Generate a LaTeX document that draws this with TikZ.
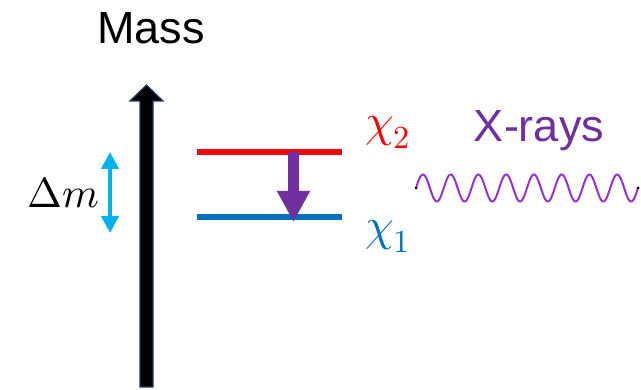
\documentclass[tikz,border=0pt]{standalone}
\usepackage{fontspec}
\usepackage{unicode-math}
\setmathfont{Latin Modern Math}
\newfontfamily\arialfont{Liberation Sans}
\usepackage{xcolor}
\usetikzlibrary{arrows.meta,positioning}

\definecolor{xpurple}{RGB}{112,48,160}
\definecolor{wavepurple}{RGB}{150,50,210}
\definecolor{xblue}{RGB}{0,112,192}
\definecolor{xcyan}{RGB}{0,176,240}
\definecolor{xnavy}{RGB}{31,56,100}

\begin{document}
\begin{tikzpicture}[
  x=1pt,y=-1pt,
  title/.style={font=\arialfont\fontsize{45}{54}\selectfont,inner sep=0pt,anchor=base},
  chilabel/.style={font=\fontsize{46}{52}\selectfont,inner sep=0pt,anchor=base west},
  level/.style={line width=6pt},
  decay/.style={-{Triangle[width=31pt,length=31pt]},line width=11pt,xpurple},
  gap/.style={{Triangle[width=17pt,length=17pt]}-{Triangle[width=17pt,length=17pt]},line width=4pt,xcyan}
]
\useasboundingbox (0,0) rectangle (641,390);

% mass axis
\filldraw[fill=black,draw=xnavy,line width=1.2pt]
  (140,387) -- (140,101) -- (130,101) -- (146.5,85) -- (163,101) -- (153,101) -- (153,387) -- cycle;
\node[title] (mass) at (151,44) {Mass};

% mass splitting
\coordinate (gaptop) at (110,152);
\coordinate (gapbot) at (110,233);
\draw[gap] (gaptop) -- (gapbot);
\node[font=\fontsize{42}{48}\selectfont,inner sep=0pt,anchor=base] (dm) at (63,208) {$\Delta m$};

% levels
\coordinate (l2a) at (197,152);
\coordinate (l2b) at (342,152);
\coordinate (l1a) at (197,217);
\coordinate (l1b) at (342,217);
\draw[level,red] (l2a) -- (l2b);
\draw[level,xblue] (l1a) -- (l1b);
\node[chilabel,text=red] (chi2) at (365,137) {$\chi_2$};
\node[chilabel,text=xblue] (chi1) at (365,241) {$\chi_1$};

% transition
\coordinate (dtop) at (293.5,152);
\coordinate (dbot) at (293.5,222);
\draw[decay] (dtop) -- (dbot);

% photon
\node[title,text=xpurple] (xray) at (539,142) {X-rays};
\coordinate (w0) at (416,188);
\coordinate (w1) at (638,188);
\draw[wavepurple,line width=2pt] plot[domain=0:222,samples=400] (\x+416,{188-13.5*sin(\x/27.75*360)});
\fill (w0) circle (1.5);
\fill (w1) circle (1.5);
\end{tikzpicture}
\end{document}
